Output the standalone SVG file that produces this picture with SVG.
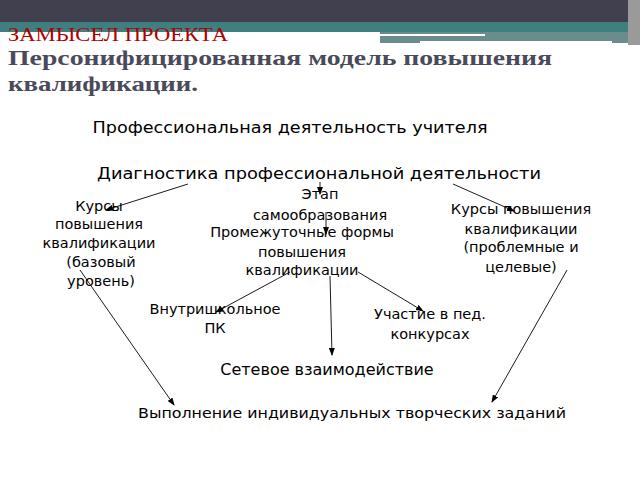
<svg xmlns="http://www.w3.org/2000/svg" width="640" height="480" viewBox="0 0 640 480">
<defs>
<marker id="ah" markerWidth="8" markerHeight="6" refX="7" refY="3" orient="auto" markerUnits="userSpaceOnUse"><path d="M0,0 L8,3 L0,6 z" fill="#000"/></marker>
<style>
.t{font-family:"DejaVu Sans","Liberation Sans",sans-serif;font-size:14.5px;fill:#000;text-anchor:middle}
.b{font-size:16px}
.c line{stroke:#000;stroke-width:0.9;marker-end:url(#ah)}
</style>
</defs>
<rect width="640" height="480" fill="#fff"/>
<rect x="0" y="0" width="640" height="22" fill="#41404f"/>
<rect x="0" y="22" width="640" height="10" fill="#3f7f80"/>
<rect x="0" y="32" width="380" height="4" fill="#fff"/>
<rect x="380" y="32" width="250" height="11" fill="#6a8c8c"/>
<rect x="380" y="34" width="105" height="2" fill="#fff"/>
<rect x="420" y="41" width="192" height="2" fill="#fff"/>
<rect x="628" y="0" width="12" height="45" fill="#9a9a9a"/>
<text x="8" y="41" font-family="Liberation Serif,serif" font-size="18" fill="#b00000" textLength="220" lengthAdjust="spacingAndGlyphs">ЗАМЫСЕЛ ПРОЕКТА</text>
<text x="8" y="65" font-family="Liberation Serif,serif" font-size="22" font-weight="bold" fill="#4a4a5a" textLength="544" lengthAdjust="spacingAndGlyphs">Персонифицированная модель повышения</text>
<text x="8" y="91" font-family="Liberation Serif,serif" font-size="22" font-weight="bold" fill="#4a4a5a" textLength="190" lengthAdjust="spacingAndGlyphs">квалификации.</text>
<g class="c">
<line x1="188" y1="184" x2="106" y2="210"/>
<line x1="320" y1="182" x2="320" y2="194"/>
<line x1="326" y1="212" x2="326" y2="234"/>
<line x1="453" y1="184" x2="514" y2="211"/>
<line x1="80" y1="270" x2="174" y2="405"/>
<line x1="567" y1="270" x2="492" y2="402"/>
<line x1="290" y1="272" x2="216" y2="312"/>
<line x1="330" y1="276" x2="332" y2="355"/>
<line x1="358" y1="272" x2="423" y2="311"/>
</g>
<g id="n1"><text class="t b" x="290" y="133" textLength="395" lengthAdjust="spacingAndGlyphs">Профессиональная деятельность учителя</text></g>
<g id="n2"><text class="t b" x="319" y="179" textLength="444" lengthAdjust="spacingAndGlyphs">Диагностика профессиональной  деятельности</text></g>
<g id="n3"><text class="t" x="320" y="199">Этап</text><text class="t" x="320" y="220">самообразования</text></g>
<g id="n4"><text class="t" x="99" y="211">Курсы</text><text class="t" x="99" y="229">повышения</text><text class="t" x="99" y="248">квалификации</text><text class="t" x="101" y="267">(базовый</text><text class="t" x="101" y="286">уровень)</text></g>
<g id="n5"><text class="t" x="521" y="214">Курсы повышения</text><text class="t" x="521" y="234">квалификации</text><text class="t" x="521" y="252">(проблемные и</text><text class="t" x="521" y="272">целевые)</text></g>
<g id="n6"><text class="t" x="302" y="237">Промежуточные формы</text><text class="t" x="302" y="257">повышения</text><text class="t" x="302" y="275">квалификации</text></g>
<g id="n7"><text class="t" x="215" y="314">Внутришкольное</text><text class="t" x="215" y="333">ПК</text></g>
<g id="n8"><text class="t" x="430" y="319">Участие в  пед.</text><text class="t" x="430" y="339">конкурсах</text></g>
<g id="n9"><text class="t b" x="327" y="375">Сетевое взаимодействие</text></g>
<g id="n10"><text class="t" x="352" y="418" textLength="428" lengthAdjust="spacingAndGlyphs">Выполнение индивидуальных творческих заданий</text></g>
</svg>
